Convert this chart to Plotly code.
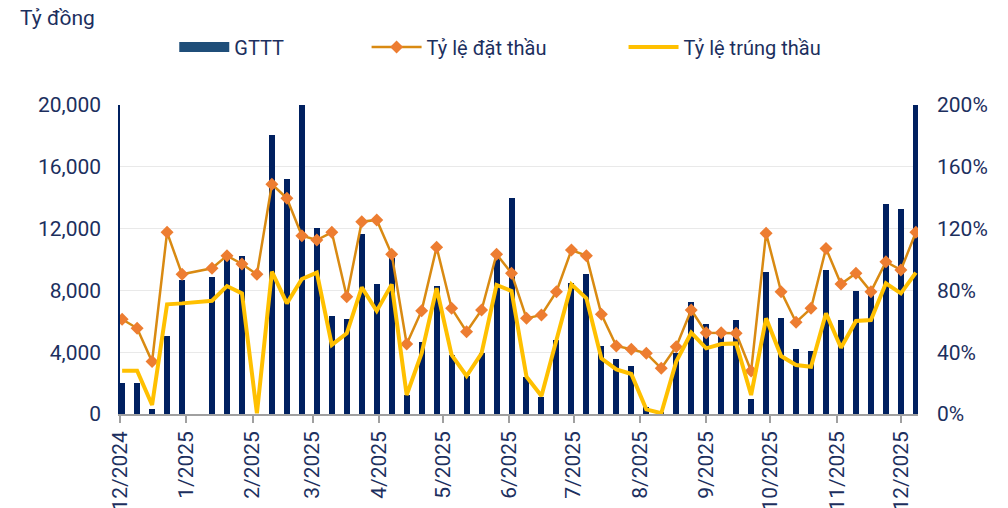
import plotly.graph_objects as go

dates = [
    "2024-12-02", "2024-12-09", "2024-12-16", "2024-12-23", "2024-12-30",
    "2025-01-13", "2025-01-20", "2025-01-27", "2025-02-03", "2025-02-10",
    "2025-02-17", "2025-02-24", "2025-03-03", "2025-03-10", "2025-03-17",
    "2025-03-24", "2025-03-31", "2025-04-07", "2025-04-14", "2025-04-21",
    "2025-04-28", "2025-05-05", "2025-05-12", "2025-05-19", "2025-05-26",
    "2025-06-02", "2025-06-09", "2025-06-16", "2025-06-23", "2025-06-30",
    "2025-07-07", "2025-07-14", "2025-07-21", "2025-07-28", "2025-08-04",
    "2025-08-11", "2025-08-18", "2025-08-25", "2025-09-01", "2025-09-08",
    "2025-09-15", "2025-09-22", "2025-09-29", "2025-10-06", "2025-10-13",
    "2025-10-20", "2025-10-27", "2025-11-03", "2025-11-10", "2025-11-17",
    "2025-11-24", "2025-12-01", "2025-12-08",
]

gttt = [
    2000, 2000, 300, 5050, 8700, 8850, 10100, 10250, 0, 18050,
    15200, 21000, 12050, 6350, 6150, 11650, 8400, 10100, 1250, 4650,
    8300, 3850, 2450, 3950, 10100, 13950, 2400, 1100, 4800, 8500,
    9050, 4400, 3550, 3100, 450, 150, 3950, 7250, 5800, 5200,
    6100, 1000, 9200, 6200, 4200, 4050, 9300, 6100, 7950, 7850,
    13600, 13250, 21000,
]

ty_le_dat_thau = [
    61.3, 55.5, 33.9, 117.6, 90.4, 94.3, 102.5, 97.1, 90.4, 148.7,
    139.6, 115.4, 112.6, 117.6, 75.9, 124.5, 125.6, 103.4, 45.3, 66.9,
    107.9, 68.4, 53.3, 67.3, 103.4, 91.1, 61.9, 64.1, 79.2, 106.1,
    102.5, 64.5, 44.0, 41.9, 39.3, 29.6, 43.6, 67.3, 52.6, 52.6,
    52.2, 27.8, 117.0, 79.2, 59.4, 68.4, 107.2, 84.1, 91.1, 79.2,
    98.6, 93.2, 117.6,
]

ty_le_trung_thau = [
    28.0, 28.0, 5.8, 71.0, 71.6, 73.3, 82.8, 78.1, 0.5, 92.1,
    71.6, 87.4, 91.5, 44.7, 52.2, 82.0, 66.7, 83.9, 12.3, 39.3,
    81.4, 38.2, 24.6, 39.3, 83.5, 79.6, 24.2, 11.7, 47.9, 83.9,
    74.9, 36.0, 28.9, 25.9, 3.0, 0.5, 33.9, 52.6, 42.5, 45.3,
    45.7, 12.3, 61.9, 37.5, 31.7, 30.6, 65.2, 42.9, 60.2, 60.8,
    84.6, 78.1, 91.5,
]

series_names = ["GTTT", "Tỷ lệ đặt thầu", "Tỷ lệ trúng thầu"]
y_title = "Tỷ đồng"

NAVY = "#002060"
TXT = "#1C2F5E"
FONT = "Roboto"

fig = go.Figure()

fig.add_trace(go.Bar(
    x=dates, y=gttt, name=series_names[0],
    marker=dict(color=NAVY, line=dict(width=0)),
    width=2.8 * 86400000, showlegend=False, legendgroup="g1",
))
# legend swatch for the bar series (wide rectangle like the original)
fig.add_trace(go.Scatter(
    x=[None], y=[None], mode="lines", name=series_names[0],
    line=dict(color="#1F4E79", width=13), legend="legend", legendgroup="g1",
))
fig.add_trace(go.Scatter(
    x=dates, y=[v / 100 for v in ty_le_dat_thau], name=series_names[1],
    mode="lines+markers", yaxis="y2",
    line=dict(color="#D98A12", width=2.5),
    marker=dict(symbol="diamond", size=10, color="#ED7D31"),
    legend="legend2",
))
fig.add_trace(go.Scatter(
    x=dates, y=[v / 100 for v in ty_le_trung_thau], name=series_names[2],
    mode="lines", yaxis="y2",
    line=dict(color="#FFC000", width=4),
    legend="legend3",
))

leg_common = dict(orientation="h", font=dict(family=FONT, size=20, color=TXT),
                  bgcolor="rgba(0,0,0,0)", itemwidth=50, yanchor="middle",
                  xanchor="left", y=1.188, tracegroupgap=0)

fig.update_layout(
    width=1008, height=508,
    margin=dict(l=120, r=90, t=105, b=94, pad=0),
    paper_bgcolor="white", plot_bgcolor="white",
    font=dict(family=FONT, size=21, color=TXT),
    bargap=0,
    legend=dict(**leg_common, x=0.068),
    legend2=dict(**leg_common, x=0.309),
    legend3=dict(**leg_common, x=0.631),
    xaxis=dict(
        type="date",
        range=["2024-12-01", "2025-12-09"],
        tick0="2024-12-01", dtick="M1", tickformat="%-m/%Y",
        tickangle=-90, automargin=False,
        ticks="outside", ticklen=7, tickcolor="#A0A0A0", tickwidth=1.5,
        showline=True, linecolor="#A0A0A0", linewidth=1.5,
        showgrid=False, zeroline=False,
        tickfont=dict(family=FONT, size=21, color=TXT),
    ),
    yaxis=dict(
        range=[0, 20000], dtick=4000, tickformat=",d",
        showgrid=True, gridcolor="#E9E9E9", gridwidth=1,
        showline=True, linecolor=NAVY, linewidth=1.5,
        zeroline=False, ticks="", ticklabelstandoff=13, automargin=False,
        tickfont=dict(family=FONT, size=21, color=TXT),
    ),
    yaxis2=dict(
        range=[0, 2.0], dtick=0.4, tickformat=".0%",
        overlaying="y", side="right", showgrid=False,
        showline=False, zeroline=False, ticks="", ticklabelstandoff=18,
        automargin=False,
        tickfont=dict(family=FONT, size=21, color=TXT),
    ),
    annotations=[dict(
        text=y_title, xref="paper", yref="paper", x=-0.128, y=1.282,
        xanchor="left", yanchor="middle", showarrow=False,
        font=dict(family=FONT, size=21, color=TXT),
    )],
)

fig.write_html("out.html", config={"displayModeBar": False},
               post_script="document.body.style.margin='0';")
